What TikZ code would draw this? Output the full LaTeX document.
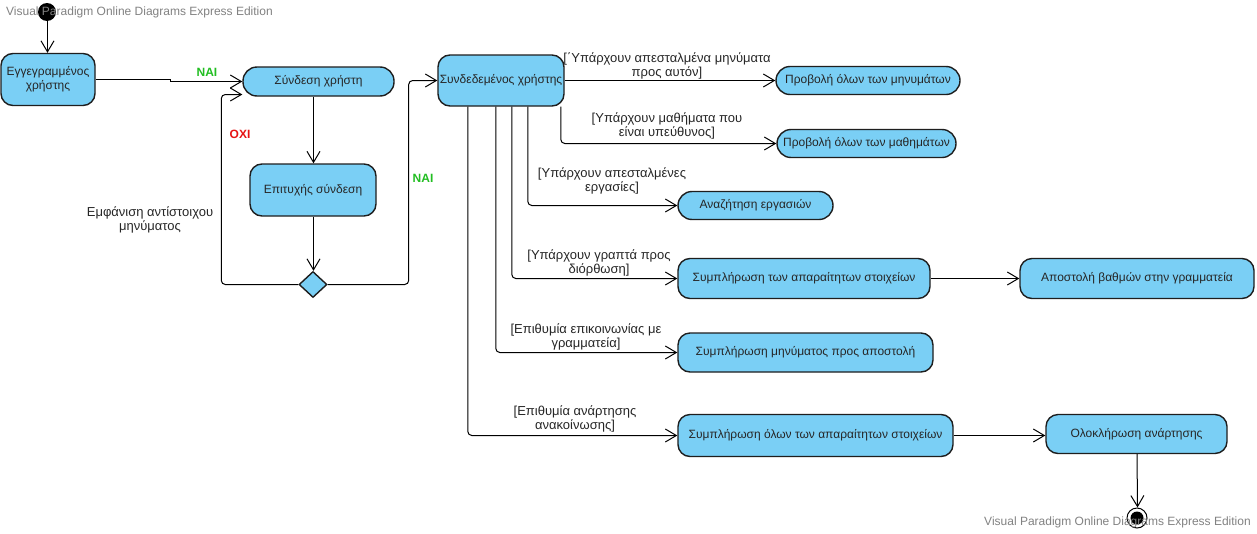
\documentclass[tikz,border=0pt]{standalone}
\usepackage{fontspec}
\setmainfont{Liberation Sans}
\usetikzlibrary{arrows.meta,shapes.geometric,calc}
\definecolor{nodefill}{RGB}{122,207,245}
\definecolor{nodeline}{RGB}{30,30,30}
\definecolor{yesgreen}{RGB}{34,190,34}
\definecolor{nored}{RGB}{230,20,20}
\definecolor{wm}{RGB}{130,130,130}
\begin{document}
\begin{tikzpicture}[x=1pt,y=-1pt,
  act/.style={draw=nodeline, line width=1.4pt, fill=nodefill, rounded corners=12pt,
    align=center, font=\fontsize{12}{14}\selectfont, inner sep=0pt, text=black!85},
  pill/.style={act, rounded corners=14pt},
  arr/.style={line width=1pt, -{Straight Barb[length=11pt,width=13pt]}, rounded corners=4pt},
  lbl/.style={font=\fontsize{13}{14}\selectfont, align=center, inner sep=0pt, text=black!85},
  yes/.style={font=\fontsize{12}{14}\selectfont\bfseries, text=yesgreen, inner sep=0pt},
  no/.style={font=\fontsize{12}{14}\selectfont\bfseries, text=nored, inner sep=0pt},
  wmk/.style={font=\fontsize{12}{14}\selectfont, text=wm, inner sep=0pt, anchor=west}]
\useasboundingbox (0,0) rectangle (1257,533);
\fill[white] (0,0) rectangle (1257,533);

% initial and final
\node[circle, fill=black, minimum size=18pt, inner sep=0pt] (init) at (47,12) {};
\node[circle, draw=black, line width=1pt, fill=white, minimum size=20pt, inner sep=0pt] (fin) at (1137,518) {};
\node[circle, fill=black, minimum size=13pt, inner sep=0pt] (fininner) at (fin) {};

% activity nodes
\node[act, minimum width=94pt, minimum height=52pt] (n1) at (48,79.5) {Εγγεγραμμένος\\χρήστης};
\node[pill, minimum width=151pt, minimum height=29pt] (n2) at (318.5,81.5) {Σύνδεση χρήστη};
\node[act, minimum width=126pt, minimum height=52pt] (n3) at (313,190) {Επιτυχής σύνδεση};
\node[diamond, draw=nodeline, line width=1.4pt, fill=nodefill, minimum width=28pt, minimum height=26pt, inner sep=0pt] (dia) at (313,284.5) {};
\node[act, minimum width=126pt, minimum height=51pt] (n4) at (501,80.5) {Συνδεδεμένος χρήστης};
\node[pill, minimum width=184pt, minimum height=28pt] (n5) at (868,80.5) {Προβολή όλων των μηνυμάτων};
\node[pill, minimum width=179pt, minimum height=28pt] (n6) at (866.5,143.5) {Προβολή όλων των μαθημάτων};
\node[pill, minimum width=155pt, minimum height=28pt] (n7) at (755.5,205.5) {Αναζήτηση εργασιών};
\node[act, minimum width=252pt, minimum height=40pt] (n8) at (804,278.5) {Συμπλήρωση των απαραίτητων στοιχείων};
\node[act, minimum width=234pt, minimum height=40pt] (n9) at (1137,278.5) {Αποστολή βαθμών στην γραμματεία};
\node[act, minimum width=255pt, minimum height=39pt] (n10) at (805.5,352.5) {Συμπλήρωση μηνύματος προς αποστολή};
\node[act, minimum width=275pt, minimum height=42pt] (n11) at (815.5,435.5) {Συμπλήρωση όλων των απαραίτητων στοιχείων};
\node[act, minimum width=181pt, minimum height=39pt] (n12) at (1136.5,434) {Ολοκλήρωση ανάρτησης};

% connectors
\draw[arr] ([xshift=0.5pt]init.south) -- ([xshift=0.5pt]init.south |- n1.north);
\draw[arr, rounded corners=0pt] (n1.east) -- ++(75,0) -- ++(0,2) -- (n2.west);
\draw[arr] ([xshift=0.5pt]n3.north |- n2.south) -- ([xshift=0.5pt]n3.north);
\draw[arr] ([xshift=0.5pt]n3.south) -- ([xshift=0.5pt]dia.north);
\draw[arr] (dia.west) -- ++(-77,0) |- ($(n2.west)+(0,13)$);
\draw[arr] (dia.east) -- ++(81,0) |- (n4.west);
\draw[arr] (n4.east) -- (n5.west);
\draw[arr] ([xshift=123.5pt]n4.south west) |- (n6.west);
\draw[arr] ([xshift=90.5pt]n4.south west) |- (n7.west);
\draw[arr] ([xshift=74.5pt]n4.south west) |- (n8.west);
\draw[arr] ([xshift=58.5pt]n4.south west) |- (n10.west);
\draw[arr] ([xshift=30.5pt]n4.south west) |- (n11.west);
\draw[arr] (n8.east) -- (n9.west);
\draw[arr] (n11.east) -- (n11.east -| n12.west);
\draw[arr] ([xshift=0.5pt]n12.south) -- ([xshift=0.5pt]fin.north);

% labels
\node[yes] (y1) at (207,72) {ΝΑΙ};
\node[no] (o1) at (240,134) {ΟΧΙ};
\node[yes] (y2) at (423,178) {ΝΑΙ};
\node[lbl] (l0) at (150,220) {Εμφάνιση αντίστοιχου\\μηνύματος};
\node[lbl] (l1) at (667,66) {[΄Υπάρχουν απεσταλμένα μηνύματα\\προς αυτόν]};
\node[lbl] (l2) at (667,126) {[Υπάρχουν μαθήματα που\\είναι υπεύθυνος]};
\node[lbl] (l3) at (612,181) {[Υπάρχουν απεσταλμένες\\εργασίες]};
\node[lbl] (l4) at (599,263) {[Υπάρχουν γραπτά προς\\διόρθωση]};
\node[lbl] (l5) at (586,337) {[Επιθυμία επικοινωνίας με\\γραμματεία]};
\node[lbl] (l6) at (575,419) {[Επιθυμία ανάρτησης\\ανακοίνωσης]};

% watermarks
\node[wmk] (w1) at (6,12) {Visual Paradigm Online Diagrams Express Edition};
\node[wmk] (w2) at (984,522) {Visual Paradigm Online Diagrams Express Edition};
\end{tikzpicture}
\end{document}
